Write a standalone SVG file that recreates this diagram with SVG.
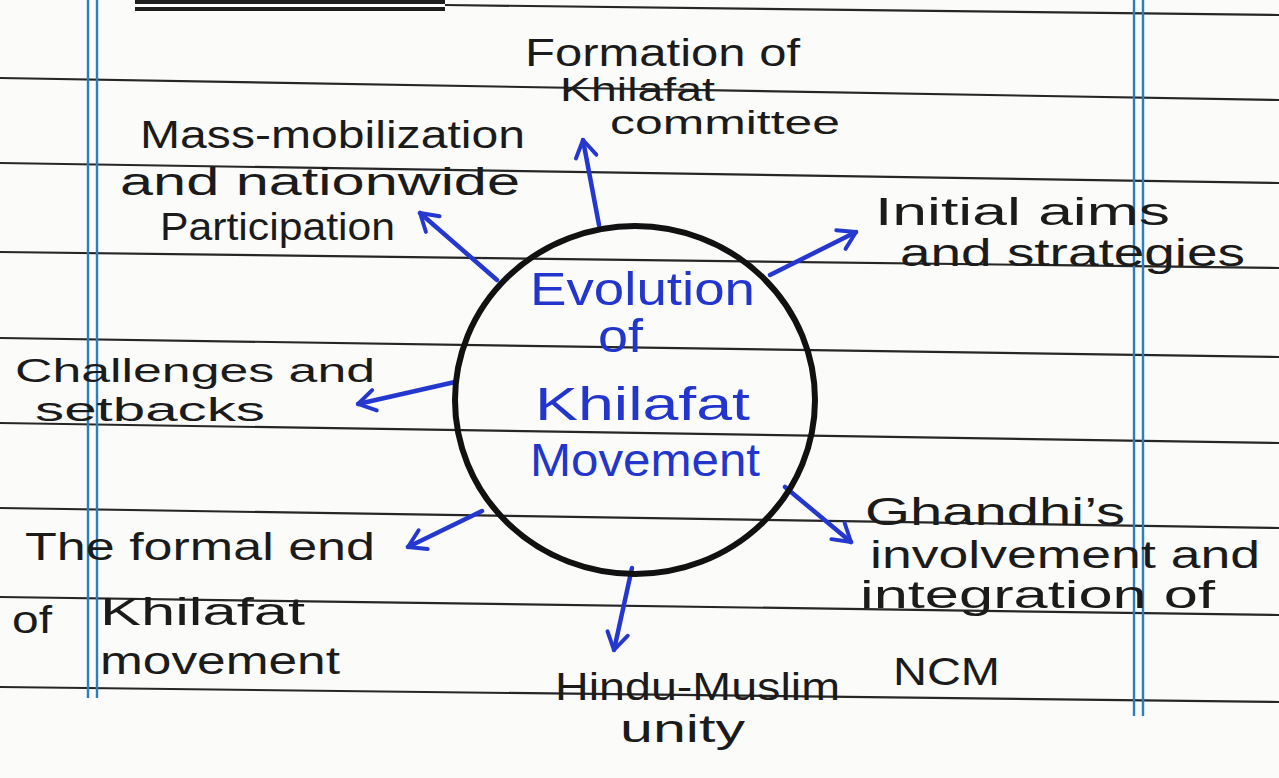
<svg xmlns="http://www.w3.org/2000/svg" width="1279" height="778" viewBox="0 0 1279 778">
<style>
.rule{stroke:#262626;stroke-width:2.2;fill:none}
.margin{stroke:#2a7fc4;stroke-width:2.4;fill:none}
.lbl{font-family:"Liberation Sans","DejaVu Sans",sans-serif;font-size:38px;fill:#1b1b1b}
.sm{font-size:33px}
.ctr{font-family:"Liberation Sans","DejaVu Sans",sans-serif;font-size:46px;fill:#2235cc}
.arr{stroke:#2438d0;stroke-width:4.5;fill:none;stroke-linecap:round;marker-end:url(#head)}
</style>
<defs>
<marker id="head" viewBox="0 0 20 20" refX="16" refY="10" markerWidth="26" markerHeight="26" markerUnits="userSpaceOnUse" orient="auto">
<path d="M3,2 L16,10 L3,18" fill="none" stroke="#2438d0" stroke-width="3" stroke-linecap="round" stroke-linejoin="round"/>
</marker>
</defs>
<rect width="1279" height="778" fill="#fbfbfa"/>
<g id="paper">
<rect x="135" y="0" width="310" height="4" fill="#1e1e1e"/>
<rect x="135" y="7" width="310" height="4" fill="#1e1e1e"/>
<line class="rule" x1="445" y1="5" x2="1279" y2="15"/>
<line class="rule" x1="0" y1="78" x2="1279" y2="100"/>
<line class="rule" x1="0" y1="163" x2="1279" y2="183"/>
<line class="rule" x1="0" y1="252" x2="1279" y2="268"/>
<line class="rule" x1="0" y1="338" x2="1279" y2="357"/>
<line class="rule" x1="0" y1="423" x2="1279" y2="443"/>
<line class="rule" x1="0" y1="508" x2="1279" y2="528"/>
<line class="rule" x1="0" y1="597" x2="1279" y2="615"/>
<line class="rule" x1="0" y1="687" x2="1279" y2="702"/>
<line class="margin" x1="88" y1="0" x2="88" y2="698"/>
<line class="margin" x1="97" y1="0" x2="97" y2="698"/>
<line class="margin" x1="1134" y1="0" x2="1134" y2="716"/>
<line class="margin" x1="1143" y1="0" x2="1143" y2="716"/>
</g>
<g id="connectors">
<line class="arr" x1="599" y1="225" x2="583" y2="140"/>
<line class="arr" x1="497" y1="280" x2="420" y2="213"/>
<line class="arr" x1="770" y1="275" x2="856" y2="232"/>
<line class="arr" x1="455" y1="382" x2="358" y2="404"/>
<line class="arr" x1="482" y1="511" x2="408" y2="547"/>
<line class="arr" x1="632" y1="568" x2="614" y2="650"/>
<line class="arr" x1="785" y1="487" x2="851" y2="542"/>
</g>
<g id="center">
<ellipse cx="635" cy="400" rx="180" ry="174" fill="none" stroke="#111" stroke-width="6"/>
<text class="ctr" x="530" y="305" textLength="225" lengthAdjust="spacingAndGlyphs">Evolution</text>
<text class="ctr" x="598" y="352" textLength="45" lengthAdjust="spacingAndGlyphs">of</text>
<text class="ctr" x="535" y="420" textLength="215" lengthAdjust="spacingAndGlyphs">Khilafat</text>
<text class="ctr" x="530" y="476" textLength="230" lengthAdjust="spacingAndGlyphs">Movement</text>
</g>
<g id="formation">
<text class="lbl" x="525" y="66" textLength="275" lengthAdjust="spacingAndGlyphs">Formation of</text>
<text class="lbl sm" x="560" y="101" textLength="155" lengthAdjust="spacingAndGlyphs">Khilafat</text>
<text class="lbl sm" x="610" y="134" textLength="230" lengthAdjust="spacingAndGlyphs">committee</text>
</g>
<g id="mass">
<text class="lbl" x="140" y="148" textLength="385" lengthAdjust="spacingAndGlyphs">Mass-mobilization</text>
<text class="lbl" x="120" y="195" textLength="400" lengthAdjust="spacingAndGlyphs">and nationwide</text>
<text class="lbl" x="160" y="240" textLength="235" lengthAdjust="spacingAndGlyphs">Participation</text>
</g>
<g id="initial">
<text class="lbl" x="875" y="225" textLength="295" lengthAdjust="spacingAndGlyphs">Initial aims</text>
<text class="lbl" x="900" y="266" textLength="345" lengthAdjust="spacingAndGlyphs">and strategies</text>
</g>
<g id="challenges">
<text class="lbl sm" x="15" y="382" textLength="360" lengthAdjust="spacingAndGlyphs">Challenges and</text>
<text class="lbl sm" x="35" y="421" textLength="230" lengthAdjust="spacingAndGlyphs">setbacks</text>
</g>
<g id="ghandhi">
<text class="lbl" x="865" y="525" textLength="260" lengthAdjust="spacingAndGlyphs">Ghandhi’s</text>
<text class="lbl" x="870" y="568" textLength="390" lengthAdjust="spacingAndGlyphs">involvement and</text>
<text class="lbl" x="860" y="608" textLength="355" lengthAdjust="spacingAndGlyphs">integration of</text>
<text class="lbl" x="893" y="685" textLength="107" lengthAdjust="spacingAndGlyphs">NCM</text>
</g>
<g id="formal-end">
<text class="lbl" x="25" y="560" textLength="350" lengthAdjust="spacingAndGlyphs">The formal end</text>
<text class="lbl" x="12" y="633" textLength="40" lengthAdjust="spacingAndGlyphs">of</text>
<text class="lbl" x="100" y="625" textLength="205" lengthAdjust="spacingAndGlyphs">Khilafat</text>
<text class="lbl" x="100" y="674" textLength="240" lengthAdjust="spacingAndGlyphs">movement</text>
</g>
<g id="unity">
<text class="lbl" x="555" y="700" textLength="285" lengthAdjust="spacingAndGlyphs">Hindu-Muslim</text>
<text class="lbl" x="620" y="742" textLength="125" lengthAdjust="spacingAndGlyphs">unity</text>
</g>
</svg>
